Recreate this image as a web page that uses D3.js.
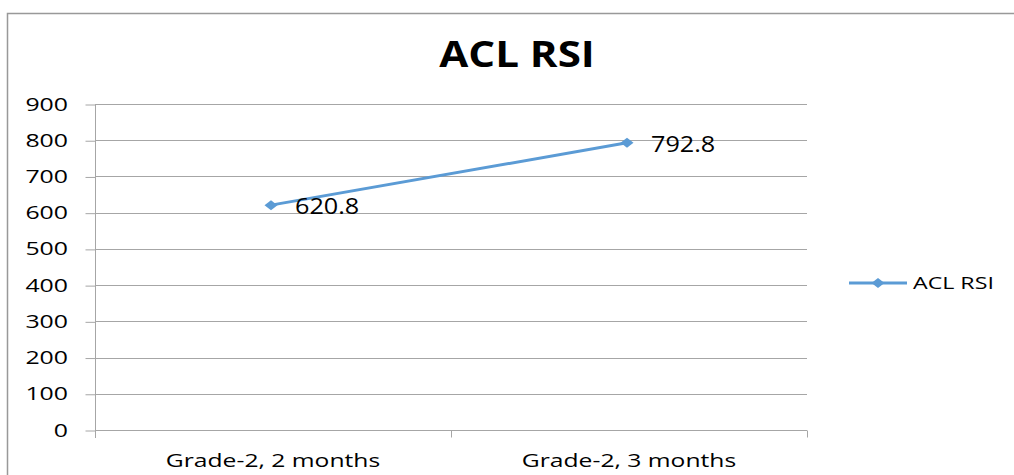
<!DOCTYPE html>
<html>
<head>
<meta charset="utf-8">
<script src="https://cdn.jsdelivr.net/npm/d3@7"></script>
<style>
  body { margin: 0; background: #fff; }
  svg text { font-family: "Open Sans", "DejaVu Sans", sans-serif; fill: #000; }
</style>
</head>
<body>
<svg id="chart" width="1014" height="475"></svg>
<script>
const categories = ["Grade-2, 2 months", "Grade-2, 3 months"];
const values = [620.8, 792.8];
const yTicks = [0, 100, 200, 300, 400, 500, 600, 700, 800, 900];
const seriesName = "ACL RSI";
const title = "ACL RSI";

const svg = d3.select("#chart");
const margin = { top: 104, right: 207, bottom: 45, left: 95 };
const width = +svg.attr("width");
const height = +svg.attr("height");
const color = "#5b9bd5";

// the reference text is stretched sideways, so draw it in a scaled group
function wideText(parent, px, py, sx, str) {
  return parent.append("g")
    .attr("transform", `translate(${px},${py}) scale(${sx},1)`)
    .append("text")
    .text(str);
}

// outer frame
svg.append("path")
  .attr("d", `M7.5,475 V13.5 H1014`)
  .attr("fill", "none")
  .attr("stroke", "#999")
  .attr("stroke-width", 1.5);

const x = d3.scaleBand()
  .domain(categories)
  .range([margin.left, width - margin.right]);

const y = d3.scaleLinear()
  .domain([0, 900])
  .range([height - margin.bottom, margin.top]);

// gridlines
svg.append("g")
  .selectAll("line")
  .data(yTicks)
  .join("line")
  .attr("x1", margin.left)
  .attr("x2", width - margin.right)
  .attr("y1", d => Math.round(y(d)) + 0.5)
  .attr("y2", d => Math.round(y(d)) + 0.5)
  .attr("stroke", "#a6a6a6");

// y axis
const yAxis = svg.append("g")
  .attr("transform", `translate(${margin.left + 0.5},0)`)
  .call(d3.axisLeft(y).tickValues(yTicks).tickSize(10).tickFormat(""));
yAxis.select(".domain").remove();
yAxis.selectAll("line").attr("stroke", "#a6a6a6")
  .attr("transform", "translate(0,0.5)");
yAxis.append("line")
  .attr("y1", margin.top).attr("y2", height - margin.bottom + 8)
  .attr("stroke", "#a6a6a6");
yTicks.forEach(t => {
  wideText(svg, 68, y(t) + 6.5, 1.38, t)
    .attr("text-anchor", "end")
    .attr("font-size", 18);
});

// x axis
const xAxis = svg.append("g")
  .attr("transform", `translate(0,${Math.round(y(0)) + 0.5})`);
xAxis.selectAll("line.tk")
  .data([x.range()[0], x(categories[1]), x.range()[1]])
  .join("line")
  .attr("class", "tk")
  .attr("x1", d => Math.round(d) + 0.5)
  .attr("x2", d => Math.round(d) + 0.5)
  .attr("y1", 0).attr("y2", 7)
  .attr("stroke", "#a6a6a6");
categories.forEach(c => {
  wideText(xAxis, x(c) + x.bandwidth() / 2, 36, 1.37, c)
    .attr("text-anchor", "middle")
    .attr("font-size", 18);
});

// line
const pts = categories.map((c, i) => ({ c, v: values[i] }));
const px = d => x(d.c) + x.bandwidth() / 2 - 2;
svg.append("path")
  .datum(pts)
  .attr("fill", "none")
  .attr("stroke", color)
  .attr("stroke-width", 3)
  .attr("d", d3.line().x(px).y(d => y(d.v)));

const diamond = "M-6.5,0L0,-5L6.5,0L0,5Z";
svg.append("g")
  .selectAll("path")
  .data(pts)
  .join("path")
  .attr("transform", d => `translate(${px(d)},${y(d.v)})`)
  .attr("d", diamond)
  .attr("fill", color);

// data labels
pts.forEach(d => {
  wideText(svg, px(d) + 24, y(d.v) + 9, 1.2, d.v.toFixed(1))
    .attr("font-size", 21);
});

// title
wideText(svg, 517, 67, 1.17, title)
  .attr("text-anchor", "middle")
  .attr("font-size", 36)
  .attr("font-weight", "bold");

// legend
const lg = svg.append("g").attr("transform", "translate(849,283)");
lg.append("line").attr("x1", 0).attr("x2", 58).attr("stroke", color).attr("stroke-width", 3);
lg.append("path").attr("transform", "translate(29,0)").attr("d", diamond).attr("fill", color);
wideText(lg, 64, 6, 1.45, seriesName).attr("font-size", 16);
</script>
</body>
</html>
